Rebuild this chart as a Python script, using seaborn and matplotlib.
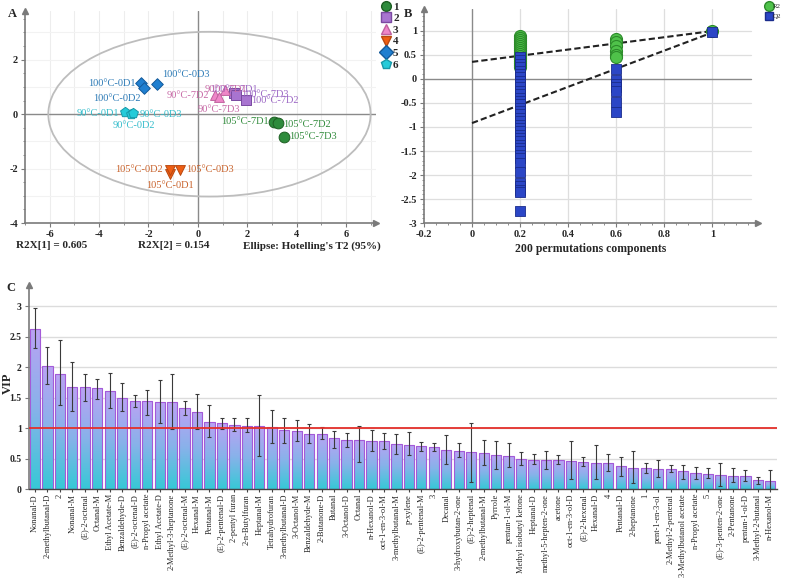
import numpy as np
import pandas as pd
import matplotlib
matplotlib.use("Agg")
import matplotlib.pyplot as plt
import seaborn as sns
from matplotlib.patches import Ellipse
from matplotlib.lines import Line2D
from matplotlib.colors import LinearSegmentedColormap
from matplotlib.ticker import MultipleLocator

# ---- A: PCA score plot ----
score_names = ["105°C-7D1", "105°C-7D2", "105°C-7D3",
               "100°C-7D1", "100°C-7D3", "100°C-7D2",
               "90°C-7D1", "90°C-7D2", "90°C-7D3",
               "105°C-0D1", "105°C-0D2", "105°C-0D3",
               "100°C-0D1", "100°C-0D2", "100°C-0D3",
               "90°C-0D1", "90°C-0D2", "90°C-0D3"]
score_t1 = [3.09, 3.23, 3.47, 1.45, 1.53, 1.96, 1.12, 0.68, 0.84,
            -1.12, -1.12, -0.72, -2.30, -2.18, -1.66, -2.95, -2.72, -2.61]
score_t2 = [-0.27, -0.33, -0.83, 0.79, 0.72, 0.51, 0.89, 0.70, 0.62,
            -2.18, -2.04, -2.04, 1.14, 0.96, 1.10, 0.07, 0.01, 0.04]
score_group = [1, 1, 1, 2, 2, 2, 3, 3, 3, 4, 4, 4, 5, 5, 5, 6, 6, 6]
r2x_text = ["R2X[1] = 0.605", "R2X[2] = 0.154", "Ellipse: Hotelling's T2 (95%)"]

# ---- B: permutation test ----
perm_r2_02 = [0.88, 0.84, 0.80, 0.76, 0.72, 0.68, 0.64, 0.60, 0.56, 0.52,
              0.48, 0.44, 0.40, 0.36, 0.32, 0.28, 0.25]
perm_q2_02 = [0.45, 0.38, 0.31, 0.24, 0.17, 0.10, 0.03, -0.04, -0.11, -0.18,
              -0.25, -0.32, -0.39, -0.46, -0.53, -0.60, -0.67, -0.74, -0.81,
              -0.88, -0.95, -1.02, -1.09, -1.16, -1.23, -1.30, -1.37, -1.44,
              -1.51, -1.58, -1.65, -1.74, -1.93, -2.16, -2.23, -2.31, -2.36, -2.74]
perm_r2_06 = [0.82, 0.76, 0.68, 0.58, 0.50, 0.46]
perm_q2_06 = [0.20, -0.03, -0.11, -0.18, -0.25, -0.49, -0.70]
orig_r2 = 0.99
orig_q2 = 0.96
r2_intercept = 0.35
q2_intercept = -0.92

# ---- C: VIP ----
vip_labels = ["Nonanal-D", "2-methylbutanal-D", "2", "Nonanal-M", "(E)-2-octenal",
              "Octanal-M", "Ethyl Acetate-M", "Benzaldehyde-D", "(E)-2-octenal-D",
              "n-Propyl acetate", "Ethyl Acetate-D", "2-Methyl-3-heptanone",
              "(E)-2-octenal-M", "Hexanal-M", "Pentanal-M", "(E)-2-pentenal-D",
              "2-pentyl furan", "2-n-Butylfuran", "Heptanal-M", "Tetrahydrofuran",
              "3-methylbutanal-D", "3-Octanol-M", "Benzaldehyde-M", "2-Butanone-D",
              "Butanal", "3-Octanol-D", "Octanal", "n-Hexanol-D", "oct-1-en-3-ol-M",
              "3-methylbutanal-M", "p-xylene", "(E)-2-pentenal-M", "3", "Decanal",
              "3-hydroxybutan-2-one", "(E)-2-heptenal", "2-methylbutanal-M", "Pyrrole",
              "pentan-1-ol-M", "Methyl isobutyl ketone", "Heptanal-D",
              "methyl-5-hepten-2-one", "acetone", "oct-1-en-3-ol-D", "(E)-2-hexenal",
              "Hexanal-D", "4", "Pentanal-D", "2-heptanone", "1", "pent-1-en-3-ol",
              "2-Methyl-2-pentenal", "3-Methylbutanol acetate", "n-Propyl acetate", "5",
              "(E)-3-penten-2-one", "2-Pentanone", "pentan-1-ol-D", "3-Methyl-2-butanal",
              "n-Hexanol-M"]
vip = [2.63, 2.02, 1.89, 1.68, 1.67, 1.65, 1.61, 1.50, 1.45, 1.44,
       1.43, 1.42, 1.33, 1.27, 1.10, 1.08, 1.05, 1.04, 1.03, 1.02,
       0.96, 0.95, 0.91, 0.91, 0.83, 0.81, 0.80, 0.79, 0.78, 0.74,
       0.73, 0.70, 0.69, 0.64, 0.63, 0.60, 0.59, 0.55, 0.54, 0.50,
       0.47, 0.47, 0.47, 0.46, 0.44, 0.43, 0.43, 0.38, 0.35, 0.34,
       0.33, 0.33, 0.29, 0.26, 0.25, 0.23, 0.22, 0.22, 0.14, 0.13]
vip_hi = [2.97, 2.33, 2.44, 2.09, 1.89, 1.80, 1.91, 1.74, 1.55, 1.62,
          1.79, 1.88, 1.44, 1.56, 1.37, 1.16, 1.16, 1.16, 1.54, 1.30,
          1.17, 1.14, 1.07, 1.02, 0.95, 0.92, 1.03, 0.96, 0.92, 0.90,
          0.93, 0.77, 0.76, 0.89, 0.75, 1.09, 0.80, 0.78, 0.75, 0.61,
          0.58, 0.63, 0.56, 0.78, 0.52, 0.72, 0.57, 0.52, 0.62, 0.43,
          0.48, 0.39, 0.40, 0.36, 0.34, 0.42, 0.34, 0.31, 0.20, 0.31]
vip_lo = [2.31, 1.72, 1.37, 1.28, 1.45, 1.48, 1.33, 1.28, 1.35, 1.22,
          1.09, 0.98, 1.21, 0.98, 0.86, 0.99, 0.95, 0.94, 0.54, 0.75,
          0.75, 0.78, 0.75, 0.82, 0.68, 0.69, 0.44, 0.62, 0.65, 0.58,
          0.56, 0.63, 0.63, 0.41, 0.53, 0.12, 0.39, 0.33, 0.36, 0.40,
          0.41, 0.33, 0.41, 0.16, 0.37, 0.17, 0.30, 0.22, 0.10, 0.26,
          0.19, 0.28, 0.17, 0.17, 0.18, 0.05, 0.11, 0.13, 0.09, 0.00]

sns.set_style("white")
plt.rcParams['font.family'] = ['Liberation Serif', 'DejaVu Serif']
plt.rcParams['axes.unicode_minus'] = False

AX_GRAY = '#7a7a7a'


def style_axis(ax):
    for s in ['top', 'right']:
        ax.spines[s].set_visible(False)
    for s in ['left', 'bottom']:
        ax.spines[s].set_color(AX_GRAY)
        ax.spines[s].set_linewidth(1.2)
    ax.plot([1], [0], marker='>', transform=ax.transAxes, clip_on=False,
            color=AX_GRAY, ms=5)
    ax.plot([0], [1], marker='^', transform=ax.transAxes, clip_on=False,
            color=AX_GRAY, ms=5)
    ax.tick_params(which='both', direction='out', color=AX_GRAY, labelsize=7.5,
                   bottom=True, left=True, pad=2)
    ax.tick_params(which='major', length=3)
    ax.tick_params(which='minor', length=1.5)
    for lbl in ax.get_xticklabels() + ax.get_yticklabels():
        lbl.set_fontweight('bold')


fig = plt.figure(figsize=(7.88, 5.81), dpi=100)

# ================= A =================
ax_a = fig.add_axes([0.0317, 0.616, 0.445, 0.3656])
ax_a.set_xlim(-7, 7.2)
ax_a.set_ylim(-4, 3.8)
for v in range(-6, 8):
    ax_a.axvline(v, color='#ededed', lw=0.8, zorder=0)
for v in range(-3, 4):
    ax_a.axhline(v, color='#f2f2f2', lw=0.8, zorder=0)
ax_a.axhline(0, color='#8a8a8a', lw=1, zorder=1)
ax_a.axvline(0, color='#8a8a8a', lw=1, zorder=1)
ax_a.add_patch(Ellipse((0.47, 0), 13.05, 6.05, fill=False,
                       edgecolor='#bdbdbd', lw=1.3, zorder=1))

scores = pd.DataFrame({'name': score_names, 't1': score_t1, 't2': score_t2,
                       'group': score_group})
marker_map = {1: 'o', 2: 's', 3: '^', 4: 'v', 5: 'D', 6: 'p'}
face_map = {1: '#2e8b3c', 2: '#a874d0', 3: '#ef86c8', 4: '#ee5e14',
            5: '#1f7fd0', 6: '#25cbd9'}
edge_map = {1: '#1d5e22', 2: '#7a4aa0', 3: '#c0609e', 4: '#b84810',
            5: '#145a9a', 6: '#1898a8'}
size_map = {1: 60, 2: 45, 3: 50, 4: 50, 5: 35, 6: 55}
text_map = {1: '#2f8a3a', 2: '#9b66c4', 3: '#c76aa6', 4: '#c8612a',
            5: '#2c7ab6', 6: '#33bccb'}
for g, sub in scores.groupby('group'):
    sns.scatterplot(data=sub, x='t1', y='t2', ax=ax_a, marker=marker_map[g],
                    color=face_map[g], edgecolor=edge_map[g], linewidth=0.7,
                    s=size_map[g], zorder=3, legend=False)

label_offsets = {
    "105°C-7D1": (-4, 0, 'right'), "105°C-7D2": (4, -1, 'left'),
    "105°C-7D3": (4, 0, 'left'), "100°C-7D1": (-17, 2.5, 'left'),
    "100°C-7D3": (4, 0, 'left'), "100°C-7D2": (3.5, 0, 'left'),
    "90°C-7D1": (-15, 0.5, 'left'), "90°C-7D2": (-4, 0, 'right'),
    "90°C-7D3": (0, -8.5, 'center'), "105°C-0D1": (0, -8.5, 'center'),
    "105°C-0D2": (-5, 0, 'right'), "105°C-0D3": (4.5, 0, 'left'),
    "100°C-0D1": (-4, 0, 'right'), "100°C-0D2": (-19.5, -7.7, 'center'),
    "100°C-0D3": (4, 6.7, 'left'), "90°C-0D1": (-4, -1, 'right'),
    "90°C-0D2": (2, -8.6, 'center'), "90°C-0D3": (4.3, -1, 'left'),
}
for _, r in scores.iterrows():
    dx, dy, ha = label_offsets[r['name']]
    ax_a.annotate(r['name'], (r['t1'], r['t2']), xytext=(dx, dy),
                  textcoords='offset points', ha=ha, va='center',
                  fontsize=7.5, color=text_map[r['group']], zorder=4)

ax_a.set_xticks([-6, -4, -2, 0, 2, 4, 6])
ax_a.set_yticks([-4, -2, 0, 2])
ax_a.xaxis.set_minor_locator(MultipleLocator(1))
ax_a.yaxis.set_minor_locator(MultipleLocator(0.5))
ax_a.set_xlabel('')
ax_a.set_ylabel('')
style_axis(ax_a)

handles_a = [Line2D([], [], ls='', marker=marker_map[g], color=face_map[g],
                    markeredgecolor=edge_map[g], ms=7) for g in range(1, 7)]
fig.legend(handles_a, [str(g) for g in range(1, 7)], loc='upper left',
           bbox_to_anchor=(0.472, 1.01), frameon=False,
           prop={'weight': 'bold', 'size': 8}, handletextpad=0.1,
           labelspacing=0.16, handlelength=1.1, borderpad=0.2)

for txt, xpos in zip(r2x_text, [0.0203, 0.175, 0.308]):
    fig.text(xpos, 0.5766, txt, fontsize=8, fontweight='bold', va='center')

# ================= B =================
ax_b = fig.add_axes([0.538, 0.6157, 0.424, 0.369])
ax_b.set_xlim(-0.2, 1.19)
ax_b.set_ylim(-3, 1.45)
for v in [0.2, 0.4, 0.6, 0.8, 1.0]:
    ax_b.axvline(v, color='#dedede', lw=0.9, zorder=0)
for v in [-2.5, -2, -1.5, -1, -0.5, 0.5, 1.0]:
    ax_b.axhline(v, color='#dedede', lw=0.9, zorder=0, xmax=0.98)
ax_b.axhline(0, color='#8a8a8a', lw=1, zorder=1, xmax=0.98)
ax_b.axvline(0, color='#8a8a8a', lw=1, zorder=1)

r2_df = pd.DataFrame({'corr': [0.2] * len(perm_r2_02) + [0.6] * len(perm_r2_06) + [1.0],
                      'value': perm_r2_02 + perm_r2_06 + [orig_r2]})
q2_df = pd.DataFrame({'corr': [0.2] * len(perm_q2_02) + [0.6] * len(perm_q2_06) + [1.0],
                      'value': perm_q2_02 + perm_q2_06 + [orig_q2]})
sns.lineplot(x=[0, 1], y=[r2_intercept, orig_r2], ax=ax_b, color='#222222',
             lw=1.5, linestyle=(0, (3, 1.5)), zorder=2)
sns.lineplot(x=[0, 1], y=[q2_intercept, orig_q2], ax=ax_b, color='#222222',
             lw=1.5, linestyle=(0, (3, 1.5)), zorder=2)
sns.scatterplot(data=r2_df, x='corr', y='value', ax=ax_b, marker='o',
                color='#4fc24a', edgecolor='#2c8a2a', linewidth=0.8, s=75,
                zorder=3, legend=False)
sns.scatterplot(data=q2_df, x='corr', y='value', ax=ax_b, marker='s',
                color='#2b46c6', edgecolor='#1a2c8c', linewidth=0.6, s=45,
                zorder=4, legend=False)
ax_b.set_xticks([-0.2, 0, 0.2, 0.4, 0.6, 0.8, 1.0])
ax_b.set_xticklabels(['-0.2', '0', '0.2', '0.4', '0.6', '0.8', '1'])
ax_b.set_yticks([-3, -2.5, -2, -1.5, -1, -0.5, 0, 0.5, 1])
ax_b.set_yticklabels(['-3', '-2.5', '-2', '-1.5', '-1', '-0.5', '0', '0.5', '1'])
ax_b.xaxis.set_minor_locator(MultipleLocator(0.05))
ax_b.yaxis.set_minor_locator(MultipleLocator(0.1))
ax_b.set_ylabel('')
ax_b.set_xlabel('200 permutations components', fontsize=8.5,
                fontweight='bold', labelpad=3)
style_axis(ax_b)

handles_b = [Line2D([], [], ls='', marker='o', color='#4fc24a',
                    markeredgecolor='#2c8a2a', ms=7),
             Line2D([], [], ls='', marker='s', color='#2b46c6',
                    markeredgecolor='#1a2c8c', ms=6)]
fig.legend(handles_b, ['R2', 'Q2'], loc='upper left',
           bbox_to_anchor=(0.965, 1.003), frameon=False, fontsize=5,
           handletextpad=0.05, labelspacing=0.6, handlelength=1.0, borderpad=0.2)

# ================= C =================
ax_c = fig.add_axes([0.0365, 0.1583, 0.949, 0.3516])
vip_df = pd.DataFrame({'pos': np.arange(len(vip)), 'vip': vip})
sns.barplot(data=vip_df, x='pos', y='vip', ax=ax_c, width=0.82,
            color='#9fb0ee', edgecolor='#a35ad8', linewidth=0.8, zorder=2)
cmap = LinearSegmentedColormap.from_list('vip', ['#36c9d6', '#88b2ea', '#bba2f4'])
grad = np.linspace(0, 1, 256).reshape(-1, 1)
for bar in list(ax_c.patches):
    x0, y0 = bar.get_x(), bar.get_y()
    w, h = bar.get_width(), bar.get_height()
    im = ax_c.imshow(grad, extent=[x0, x0 + w, y0, y0 + h], origin='lower',
                     cmap=cmap, aspect='auto', zorder=1.5)
    im.set_clip_path(bar)
    bar.set_facecolor('none')

vip_arr = np.array(vip)
ax_c.errorbar(vip_df['pos'], vip_arr,
              yerr=[vip_arr - np.array(vip_lo), np.array(vip_hi) - vip_arr],
              fmt='none', ecolor='#3a3a3a', elinewidth=0.8, capsize=1.6,
              capthick=0.8, zorder=3)
ax_c.axhline(1, color='#e4302a', lw=1.3, zorder=4)
for v in [0.5, 1.0, 1.5, 2.0, 2.5, 3.0]:
    ax_c.axhline(v, color='#dcdcdc', lw=1, zorder=0)

ax_c.set_xlim(-0.5, len(vip) - 0.5)
ax_c.set_ylim(0, 3.35)
ax_c.set_yticks([0, 0.5, 1, 1.5, 2, 2.5, 3])
ax_c.set_yticklabels(['0', '0.5', '1', '1.5', '2', '2.5', '3'])
ax_c.set_xticks(range(len(vip)))
ax_c.set_xticklabels(vip_labels, rotation=90, fontsize=6)
ax_c.set_xlabel('')
ax_c.set_ylabel('VIP', fontsize=9, fontweight='bold')
ax_c.yaxis.set_label_coords(-0.0205, 0.519)
for s in ['top', 'right']:
    ax_c.spines[s].set_visible(False)
ax_c.spines['left'].set_color(AX_GRAY)
ax_c.spines['left'].set_linewidth(1.2)
ax_c.spines['bottom'].set_color('#444444')
ax_c.spines['bottom'].set_linewidth(1)
ax_c.plot([0], [1], marker='^', transform=ax_c.transAxes, clip_on=False,
          color=AX_GRAY, ms=5)
ax_c.tick_params(axis='y', direction='out', length=3, color=AX_GRAY,
                 labelsize=7, left=True, pad=2)
ax_c.tick_params(axis='x', direction='out', length=2, color='#444444',
                 bottom=True, pad=1.5)
for lbl in ax_c.get_yticklabels():
    lbl.set_fontweight('bold')

# panel letters
fig.text(0.010, 0.987, 'A', fontsize=9, fontweight='bold', va='top')
fig.text(0.512, 0.987, 'B', fontsize=9, fontweight='bold', va='top')
fig.text(0.008, 0.505, 'C', fontsize=9, fontweight='bold', va='center')

fig.savefig('out.png', dpi=100)
